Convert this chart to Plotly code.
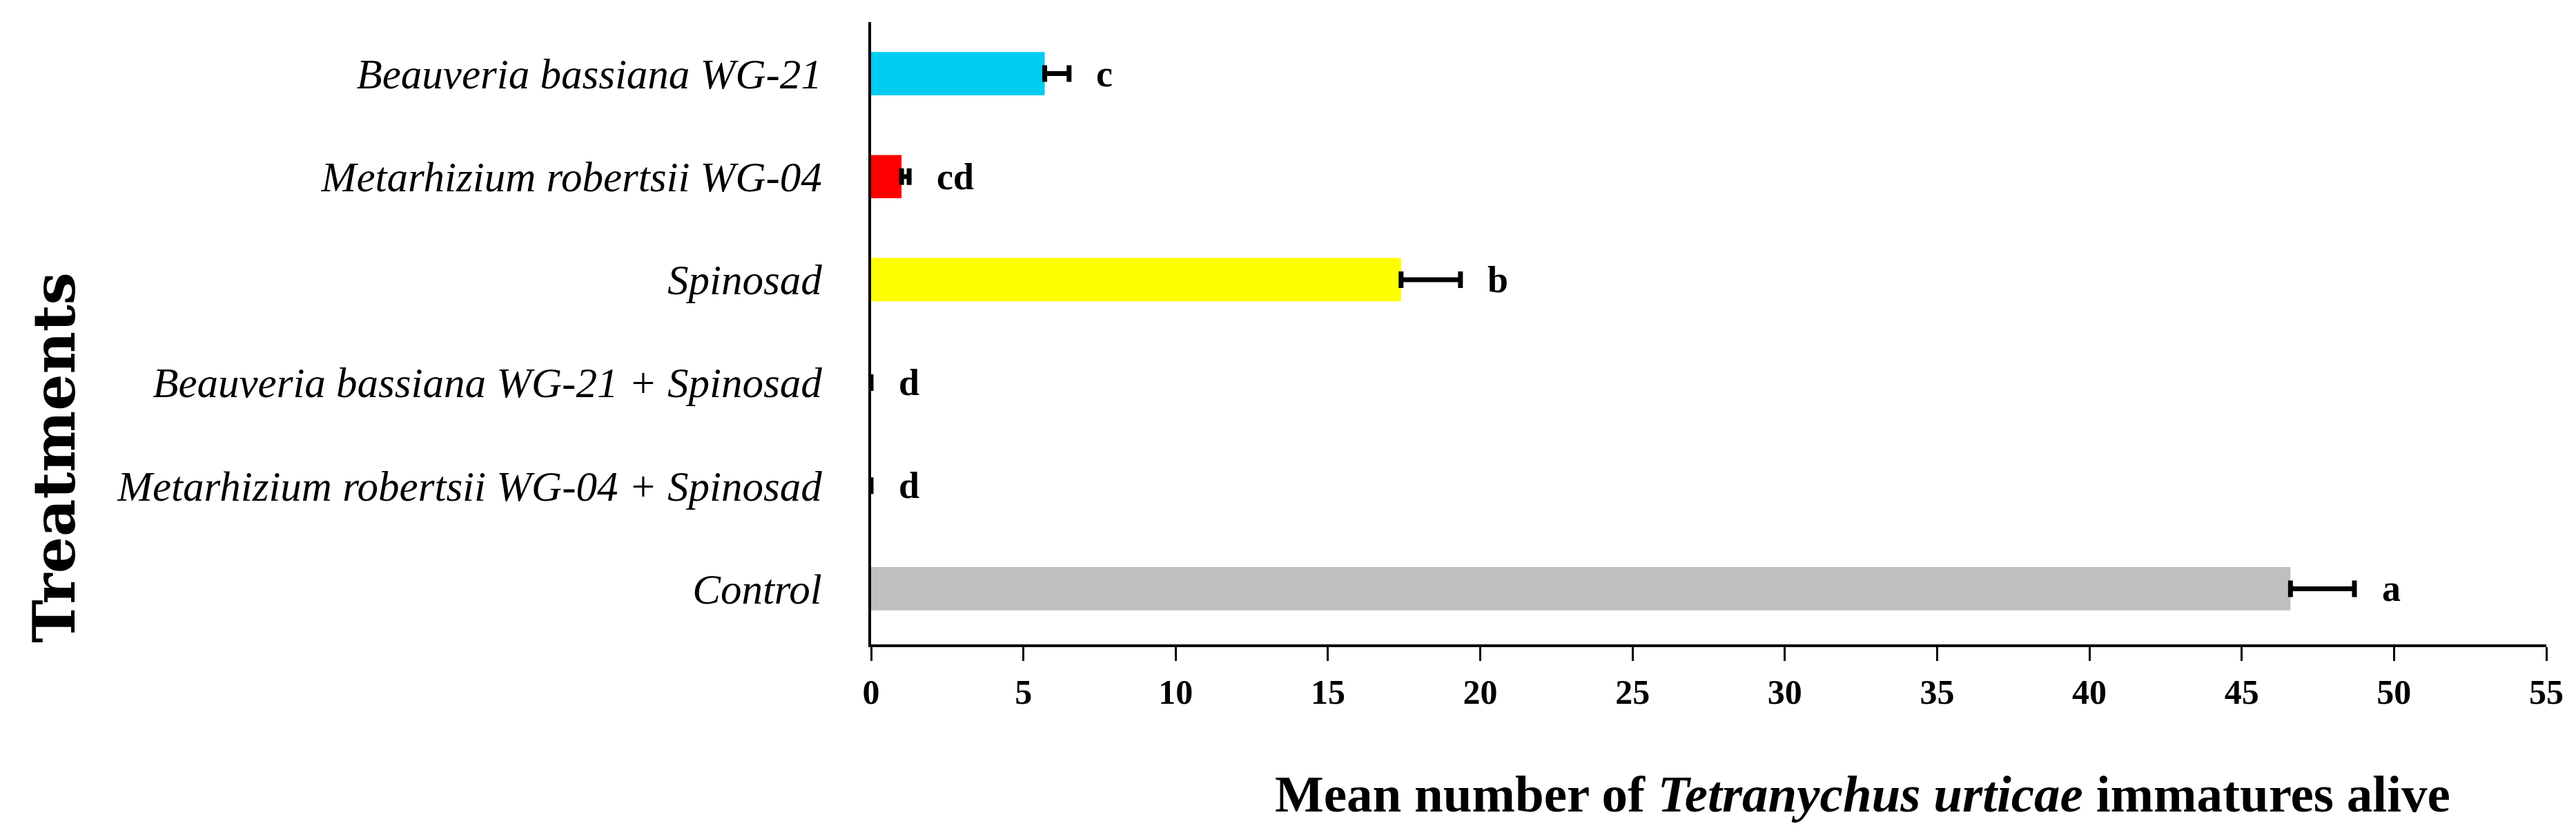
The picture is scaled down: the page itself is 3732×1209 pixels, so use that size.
import plotly.graph_objects as go

treatments = [
    "Beauveria bassiana WG-21",
    "Metarhizium robertsii WG-04",
    "Spinosad",
    "Beauveria bassiana WG-21 + Spinosad",
    "Metarhizium robertsii WG-04 + Spinosad",
    "Control",
]
means = [5.7, 1.0, 17.4, 0.0, 0.0, 46.6]
errors = [0.8, 0.25, 1.95, 0.0, 0.0, 2.1]
letters = ["c", "cd", "b", "d", "d", "a"]
colors = ["#00CCF0", "#FF0000", "#FFFF00", "#000000", "#000000", "#BFBFBF"]
x_ticks = list(range(0, 56, 5))

SERIF = "Liberation Serif, Times New Roman, serif"

L, R, T, B = 1254, 51, 24, 284
W, H = 3732, 1209
pw, ph = W - L - R, H - T - B

fig = go.Figure()
fig.add_trace(
    go.Bar(
        x=means,
        y=treatments,
        orientation="h",
        width=0.42,
        marker=dict(color=colors, line=dict(width=0)),
        error_x=dict(type="data", array=errors, arrayminus=[0] * len(errors),
                     symmetric=False, visible=True,
                     color="black", thickness=7, width=12),
        showlegend=False,
    )
)

annotations = []
for t, m, e, lab in zip(treatments, means, errors, letters):
    annotations.append(dict(
        x=m + e + 0.85, y=t, xref="x", yref="y", text=f"<b>{lab}</b>",
        showarrow=False, xanchor="left", yanchor="middle",
        font=dict(family=SERIF, size=54, color="black"),
    ))

annotations.append(dict(
    x=0.592, y=-0.24, xref="paper", yref="paper",
    text="<b>Mean number of <i>Tetranychus urticae</i> immatures alive</b>",
    showarrow=False, xanchor="center", yanchor="middle",
    font=dict(family=SERIF, size=75, color="black"),
))
annotations.append(dict(
    x=(70 - L) / pw, y=(H - 655 - B) / ph, xref="paper", yref="paper",
    text="<b>Treatments</b>", textangle=-90, showarrow=False,
    xanchor="center", yanchor="middle",
    font=dict(family="DejaVu Serif", size=84, color="black"),
))

fig.update_layout(
    width=W,
    height=H,
    paper_bgcolor="white",
    plot_bgcolor="white",
    margin=dict(l=L, r=R, t=T, b=B),
    font=dict(family=SERIF, color="black"),
    xaxis=dict(
        range=[0, 55],
        tickvals=x_ticks,
        ticktext=[f"<b>{v}</b>" for v in x_ticks],
        ticks="outside",
        ticklen=20,
        tickwidth=3,
        tickcolor="black",
        showline=True,
        linecolor="black",
        linewidth=4,
        showgrid=False,
        zeroline=False,
        ticklabelstandoff=2,
        tickfont=dict(family=SERIF, size=50, color="black"),
    ),
    yaxis=dict(
        categoryorder="array",
        categoryarray=treatments,
        autorange=False,
        range=[5.54, -0.5],
        showline=True,
        linecolor="black",
        linewidth=4,
        ticks="",
        showgrid=False,
        zeroline=False,
        ticklabelstandoff=55,
        tickfont=dict(family=SERIF, size=61, color="black"),
        tickprefix="<i>",
        ticksuffix="</i>",
    ),
    annotations=annotations,
)

fig.write_html("out.html")
